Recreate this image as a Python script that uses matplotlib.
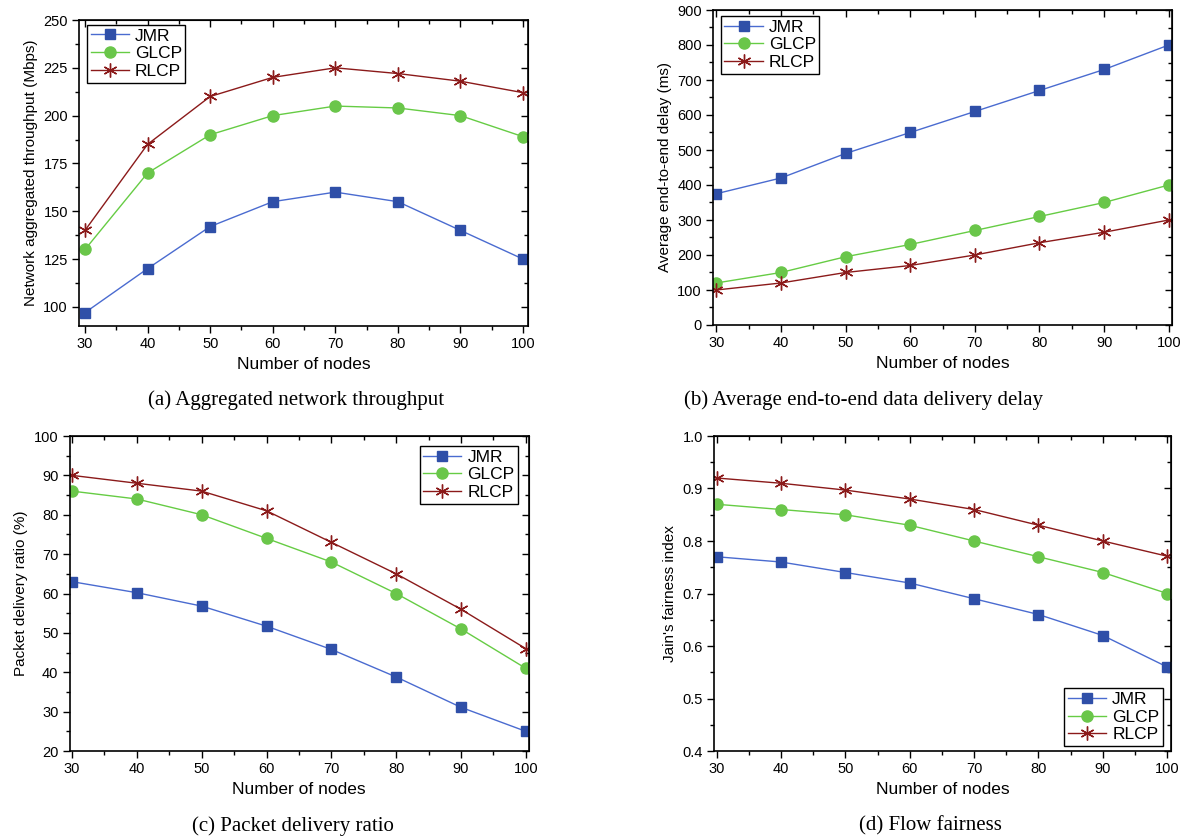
import matplotlib
matplotlib.use("Agg")
import matplotlib.pyplot as plt
from matplotlib.ticker import MultipleLocator, FormatStrFormatter

nodes = [30, 40, 50, 60, 70, 80, 90, 100]
series_names = ["JMR", "GLCP", "RLCP"]

thr_jmr = [97, 120, 142, 155, 160, 155, 140, 125]
thr_glcp = [130, 170, 190, 200, 205, 204, 200, 189]
thr_rlcp = [140, 185, 210, 220, 225, 222, 218, 212]

dly_jmr = [375, 420, 490, 550, 610, 670, 730, 800]
dly_glcp = [120, 150, 195, 230, 270, 310, 350, 400]
dly_rlcp = [100, 120, 150, 170, 200, 235, 265, 300]

pdr_jmr = [63, 60.2, 56.8, 51.7, 45.8, 38.8, 31.1, 25]
pdr_glcp = [86, 84, 80, 74, 68, 60, 51, 41]
pdr_rlcp = [90, 88, 86, 81, 73, 65, 56, 46]

fair_jmr = [0.77, 0.76, 0.74, 0.72, 0.69, 0.66, 0.62, 0.56]
fair_glcp = [0.87, 0.86, 0.85, 0.83, 0.80, 0.77, 0.74, 0.70]
fair_rlcp = [0.92, 0.91, 0.897, 0.88, 0.86, 0.83, 0.80, 0.771]

plt.rcParams['font.family'] = ['Liberation Sans', 'DejaVu Sans']

fig = plt.figure(figsize=(11.85, 8.38), dpi=100)
W, H = 1185, 838

def make_ax(l, r, t, b):
    return fig.add_axes([l / W, 1 - b / H, (r - l) / W, (b - t) / H])

styles = [
    dict(color="#4a6bd0", marker="s", mfc="#2f4fa8", mec="#2f4fa8", ms=7),
    dict(color="#66cc44", marker="o", mfc="#6ac64a", mec="#6ac64a", ms=8),
    dict(color="#8b1a1a", marker=(6, 2, 0), mfc="#8b1a1a", mec="#8b1a1a", ms=10, mew=1.0),
]

def setup(ax, data, ylim, ymaj, ymin, ylabel, xlim, leg_loc, legend_bbox, caption, cap_x, cap_y):
    for vals, name, st in zip(data, series_names, styles):
        ax.plot(nodes, vals, lw=1.0, label=name, **st)
    ax.set_xlim(*xlim)
    ax.set_ylim(*ylim)
    ax.xaxis.set_major_locator(MultipleLocator(10))
    ax.xaxis.set_minor_locator(MultipleLocator(5))
    ax.yaxis.set_major_locator(MultipleLocator(ymaj))
    ax.yaxis.set_minor_locator(MultipleLocator(ymin))
    ax.tick_params(which='major', direction='out', length=5, width=1.0, labelsize=10.5, pad=3)
    ax.tick_params(which='minor', direction='out', length=3, width=1.0)
    for sp in ax.spines.values():
        sp.set_linewidth(1.2)
    top = ax.secondary_xaxis('top')
    top.xaxis.set_major_locator(MultipleLocator(10))
    top.xaxis.set_minor_locator(MultipleLocator(5))
    top.tick_params(which='major', direction='in', length=5, width=1.0, labeltop=False)
    top.tick_params(which='minor', direction='in', length=3, width=1.0)
    right = ax.secondary_yaxis('right')
    right.yaxis.set_major_locator(MultipleLocator(ymaj))
    right.yaxis.set_minor_locator(MultipleLocator(ymin))
    right.tick_params(which='major', direction='in', length=5, width=1.0, labelright=False)
    right.tick_params(which='minor', direction='in', length=3, width=1.0)
    ax.set_xlabel("Number of nodes", fontsize=12.5, labelpad=4)
    ax.set_ylabel(ylabel, fontsize=11, labelpad=4)
    leg = ax.legend(loc=leg_loc, bbox_to_anchor=legend_bbox, fontsize=12.5,
                    frameon=True, fancybox=False, edgecolor='black', borderpad=0.2,
                    handlelength=2.2, handletextpad=0.35, labelspacing=0.15,
                    borderaxespad=0, framealpha=1)
    leg.get_frame().set_linewidth(1.0)
    fig.text(cap_x / W, 1 - cap_y / H, caption, ha='center', va='center',
             fontsize=15, family=['Liberation Serif', 'DejaVu Serif'])

ax_a = make_ax(79, 528, 20, 326)
setup(ax_a, [thr_jmr, thr_glcp, thr_rlcp], (90, 250), 25, 12.5,
      "Network aggregated throughput (Mbps)", (29.04, 100.8),
      'upper left', (0.018, 0.984),
      "(a) Aggregated network throughput", 296, 400)

ax_b = make_ax(713, 1172, 10, 325)
setup(ax_b, [dly_jmr, dly_glcp, dly_rlcp], (0, 900), 100, 50,
      "Average end-to-end delay (ms)", (29.5, 100.5),
      'upper left', (0.0174, 0.981),
      "(b) Average end-to-end data delivery delay", 864, 400)

ax_c = make_ax(69.5, 529, 436, 751)
setup(ax_c, [pdr_jmr, pdr_glcp, pdr_rlcp], (20, 100), 10, 5,
      "Packet delivery ratio (%)", (29.6, 100.5),
      'upper right', (0.976, 0.968),
      "(c) Packet delivery ratio", 293, 826)

ax_d = make_ax(714, 1171, 436, 751)
setup(ax_d, [fair_jmr, fair_glcp, fair_rlcp], (0.4, 1.0), 0.1, 0.05,
      "Jain's fairness index", (29.6, 100.58),
      'lower right', (0.982, 0.016),
      "(d) Flow fairness", 930, 826)
ax_d.yaxis.set_major_formatter(FormatStrFormatter('%.1f'))

fig.savefig("out.png", dpi=100)
